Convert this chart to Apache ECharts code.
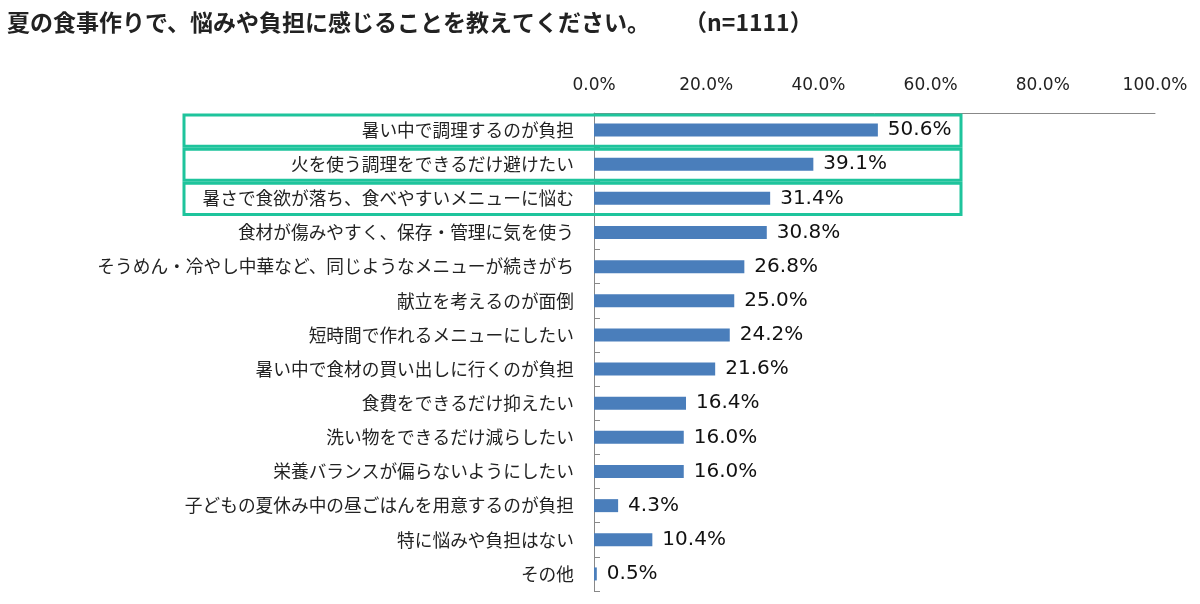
<!DOCTYPE html>
<html>
<head>
<meta charset="utf-8">
<script src="https://cdn.jsdelivr.net/npm/echarts@6/dist/echarts.min.js"></script>
<style>
  html, body { margin: 0; padding: 0; background: #fff; }
  #main { width: 1200px; height: 604px; }
</style>
</head>
<body>
<div id="main"></div>
<script>
const titleMain = '夏の食事作りで、悩みや負担に感じることを教えてください。'
const titleN = '（n=1111）'
const categories = [
  '暑い中で調理するのが負担',
  '火を使う調理をできるだけ避けたい',
  '暑さで食欲が落ち、食べやすいメニューに悩む',
  '食材が傷みやすく、保存・管理に気を使う',
  'そうめん・冷やし中華など、同じようなメニューが続きがち',
  '献立を考えるのが面倒',
  '短時間で作れるメニューにしたい',
  '暑い中で食材の買い出しに行くのが負担',
  '食費をできるだけ抑えたい',
  '洗い物をできるだけ減らしたい',
  '栄養バランスが偏らないようにしたい',
  '子どもの夏休み中の昼ごはんを用意するのが負担',
  '特に悩みや負担はない',
  'その他'
]
const values = [50.6, 39.1, 31.4, 30.8, 26.8, 25.0, 24.2, 21.6, 16.4, 16.0, 16.0, 4.3, 10.4, 0.5]
const highlighted = [0, 1, 2]

const jp = '"Noto Sans CJK JP", sans-serif'
const latin = 'Verdana, "DejaVu Sans", sans-serif'
const chart = echarts.init(document.getElementById('main'))

const option = {
  animation: false,
  title: {
    text: '{a|' + titleMain + '}{b|' + titleN + '}',
    left: 2, top: 6,
    textStyle: {
      rich: {
        a: { fontFamily: jp, fontSize: 23, fontWeight: 'bold', color: '#222' },
        b: { fontFamily: jp, fontSize: 23, fontWeight: 'bold', color: '#222', padding: [0, 0, 0, 34] }
      }
    }
  },
  grid: { left: 594, right: 45, top: 113, bottom: 13 },
  xAxis: {
    type: 'value', position: 'top',
    min: 0, max: 100, interval: 20,
    axisLine: { show: true, lineStyle: { color: '#888' } },
    axisTick: { show: false },
    splitLine: { show: false },
    axisLabel: {
      formatter: v => v.toFixed(1) + '%',
      fontFamily: latin, fontSize: 17, color: '#222', margin: 19
    }
  },
  yAxis: {
    type: 'category', data: categories, inverse: true,
    axisLine: { show: true, lineStyle: { color: '#888' } },
    axisTick: { show: true, inside: true, length: 6, lineStyle: { color: '#888' } },
    axisLabel: { fontFamily: jp, fontSize: 17.7, color: '#222', margin: 20 }
  },
  series: [{
    type: 'bar', data: values, barWidth: 13,
    itemStyle: { color: '#4a7ebb' },
    label: {
      show: true, position: 'right', distance: 10,
      formatter: p => p.value.toFixed(1) + '%',
      fontFamily: latin, fontSize: 20, color: '#111'
    }
  }]
}
chart.setOption(option)

// green highlight boxes around the top three rows
const band = chart.convertToPixel({ yAxisIndex: 0 }, categories[1]) - chart.convertToPixel({ yAxisIndex: 0 }, categories[0])
const boxes = highlighted.map(i => {
  const cy = chart.convertToPixel({ yAxisIndex: 0 }, categories[i])
  return {
    type: 'rect',
    shape: { x: 184, y: cy - band / 2 + 2, width: 777, height: band - 3 },
    style: { fill: 'none', stroke: '#1ec49c', lineWidth: 3 },
    z: 100
  }
})
chart.setOption({ graphic: boxes })
</script>
</body>
</html>
